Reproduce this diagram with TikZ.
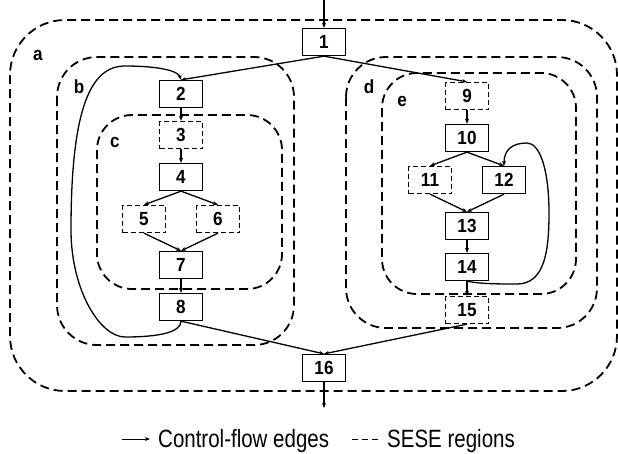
\documentclass[tikz,border=0pt]{standalone}
\usepackage{fontspec}
\setmainfont{Liberation Sans}
\newfontfamily\legendfont[FakeStretch=0.82]{Liberation Sans}
\newfontfamily\numfont[FakeStretch=0.9]{Liberation Sans}
\usetikzlibrary{arrows.meta}
\begin{document}
\begin{tikzpicture}[x=1pt,y=-1pt,
  blk/.style={draw,line width=1.3pt,minimum width=43pt,minimum height=27pt,inner sep=0pt,font=\numfont\bfseries\fontsize{19}{20}\selectfont},
  dblk/.style={blk,dash pattern=on 5pt off 3pt},
  flow/.style={line width=1.3pt,-{Stealth[length=5pt,width=4pt]}},
  region/.style={line width=1.8pt,dash pattern=on 9pt off 5pt},
  lbl/.style={font=\numfont\bfseries\fontsize{19}{20}\selectfont},
  legtext/.style={anchor=base west,inner sep=0pt,font=\legendfont\fontsize{25}{27}\selectfont}]
\useasboundingbox (0,0) rectangle (618,453);
% SESE regions
\draw[region,rounded corners=55pt](10,20) rectangle (617,391);
\draw[region,rounded corners=40pt](57,57) rectangle (294,345);
\draw[region,rounded corners=35pt](97,115) rectangle (282,289);
\draw[region,rounded corners=40pt](346,57) rectangle (597,328);
\draw[region,rounded corners=35pt](382,73) rectangle (576,294);
\node[lbl](la)at(38,55){a};
\node[lbl](lb)at(79,87){b};
\node[lbl](lc)at(115,142){c};
\node[lbl](ld)at(369,87){d};
\node[lbl](le)at(402,101){e};
% blocks
\node[blk](n1)at(324,42){1};
\node[blk](n2)at(181,94){2};
\node[dblk](n3)at(181,135){3};
\node[blk](n4)at(181,177){4};
\node[dblk](n5)at(144,219){5};
\node[dblk](n6)at(218,219){6};
\node[blk](n7)at(181,265){7};
\node[blk](n8)at(181,307){8};
\node[dblk](n9)at(467,96){9};
\node[blk](n10)at(467,138){10};
\node[dblk](n11)at(430,180){11};
\node[blk](n12)at(504,180){12};
\node[blk](n13)at(467,226){13};
\node[blk](n14)at(467,267){14};
\node[dblk](n15)at(467,310){15};
\node[blk](n16)at(324,368){16};
\coordinate(in)at(324,0);
\coordinate(out)at(324,408);
% control flow
\draw[flow](in)--(n1.north);
\draw[flow](n1.south)--(n2.north);
\draw[flow](n1.south)--(n9.north);
\draw[flow](n2)--(n3);
\draw[flow](n3)--(n4);
\draw[flow](n4.south)--(n5.north);
\draw[flow](n4.south)--(n6.north);
\draw[flow](n5.south)--(n7.north);
\draw[flow](n6.south)--(n7.north);
\draw[flow](n7)--(n8);
\draw[flow](n8.south)..controls(181,332)and(160,337)..(125,337)
  ..controls(100,337)and(71,290)..(71,230)
  ..controls(71,110)and(90,66)..(125,66)
  ..controls(155,66)and(178,70)..(n2.north);
\draw[flow](n8.south)--(n16.north);
\draw[flow](n9)--(n10);
\draw[flow](n10.south)--(n11.north);
\draw[flow](n10.south)--(n12.north);
\draw[flow](n11.south)--(n13.north);
\draw[flow](n12.south)--(n13.north);
\draw[flow](n13)--(n14);
\draw[flow](n14)--(n15);
\draw[flow](n14.south)..controls(480,284)and(500,284)..(517,284)
  ..controls(545,284)and(549,250)..(549,213)
  ..controls(549,170)and(540,143)..(527,143)
  ..controls(512,143)and(504,150)..(n12.north);
\draw[flow](n15.south)--(n16.north);
\draw[flow](n16)--(out);
% legend
\coordinate(l1)at(122,439);
\coordinate(l2)at(150,439);
\coordinate(l3)at(352,439);
\coordinate(l4)at(381,439);
\draw[flow,line width=1pt](l1)--(l2);
\node[legtext](t1)at(158,447){Control-flow edges};
\draw[line width=1pt,dash pattern=on 6pt off 4pt](l3)--(l4);
\node[legtext](t2)at(387,447){SESE regions};
\end{tikzpicture}
\end{document}
